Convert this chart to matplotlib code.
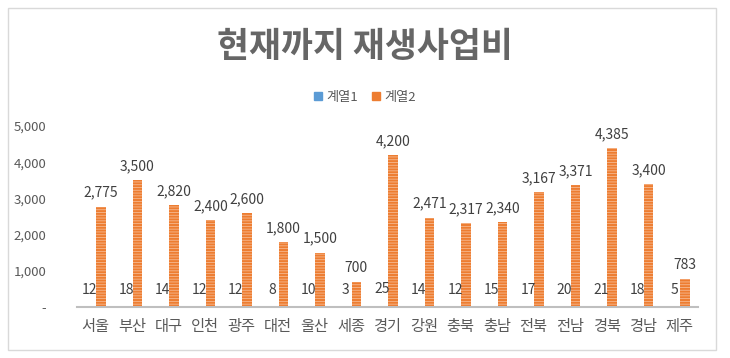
import matplotlib.pyplot as plt
from matplotlib.patches import Patch, Rectangle
import numpy as np

plt.rcParams['font.family'] = ['Noto Sans CJK KR', 'DejaVu Sans']
plt.rcParams['hatch.linewidth'] = 0.6

regions = ['서울', '부산', '대구', '인천', '광주', '대전', '울산', '세종', '경기',
           '강원', '충북', '충남', '전북', '전남', '경북', '경남', '제주']
series1 = [12, 18, 14, 12, 12, 8, 10, 3, 25, 14, 12, 15, 17, 20, 21, 18, 5]
series2 = [2775, 3500, 2820, 2400, 2600, 1800, 1500, 700, 4200,
           2471, 2317, 2340, 3167, 3371, 4385, 3400, 783]
yticks = [0, 1000, 2000, 3000, 4000, 5000]
ytick_labels = ['-', '1,000', '2,000', '3,000', '4,000', '5,000']

blue = '#5B9BD5'
orange = '#ED7D31'
gray = '#595959'

fig = plt.figure(figsize=(7.3, 3.58), dpi=100)
# outer chart border
fig.patches.append(Rectangle((8 / 730, 8 / 358), 708 / 730, 342 / 358,
                             transform=fig.transFigure, fill=False,
                             edgecolor='#D9D9D9', linewidth=1))

ax = fig.add_axes([0.1055, 0.1425, 0.8505, 0.5055])
x = np.arange(len(regions))
w = 0.26
b1 = ax.bar(x - 0.15, series1, w, color=blue, label='계열1')
b2 = ax.bar(x + 0.15, series2, w, color=orange, edgecolor='#F6B990',
            linewidth=0, hatch='------', label='계열2')

for rect, v in zip(b1, series1):
    ax.annotate(str(v), (rect.get_x() + rect.get_width() / 2, v),
                xytext=(0, 7), textcoords='offset points', ha='center',
                va='bottom', fontsize=10, color='#404040')
for rect, v in zip(b2, series2):
    ax.annotate(f'{v:,}', (rect.get_x() + rect.get_width() / 2, v),
                xytext=(0, 5), textcoords='offset points', ha='center',
                va='bottom', fontsize=10, color='#404040')

ax.set_xlim(-0.5, len(regions) - 0.5)
ax.set_ylim(0, 5000)
ax.set_yticks(yticks)
ax.set_yticklabels(ytick_labels)
ax.set_xticks(x)
ax.set_xticklabels(regions, fontsize=11, color=gray)
ax.tick_params(axis='y', length=0, labelsize=9.5, labelcolor=gray, pad=22)
ax.tick_params(axis='x', length=0, pad=8)
for s in ['top', 'right', 'left']:
    ax.spines[s].set_visible(False)
ax.spines['bottom'].set_color('#BFBFBF')
ax.spines['bottom'].set_linewidth(1.5)

fig.text(0.5, 1 - 46 / 358, '현재까지 재생사업비', ha='center', va='center',
         fontsize=25, fontweight='bold', color='#666666')

handles = [Patch(color=blue, label='계열1'), Patch(color=orange, label='계열2')]
fig.legend(handles=handles, loc='center', bbox_to_anchor=(0.5, 1 - 97 / 358),
           ncol=2, frameon=False, fontsize=9.5, handlelength=0.6,
           handleheight=0.6, handletextpad=0.4, columnspacing=1.0,
           labelcolor=gray)

fig.savefig('out.png', dpi=100)
